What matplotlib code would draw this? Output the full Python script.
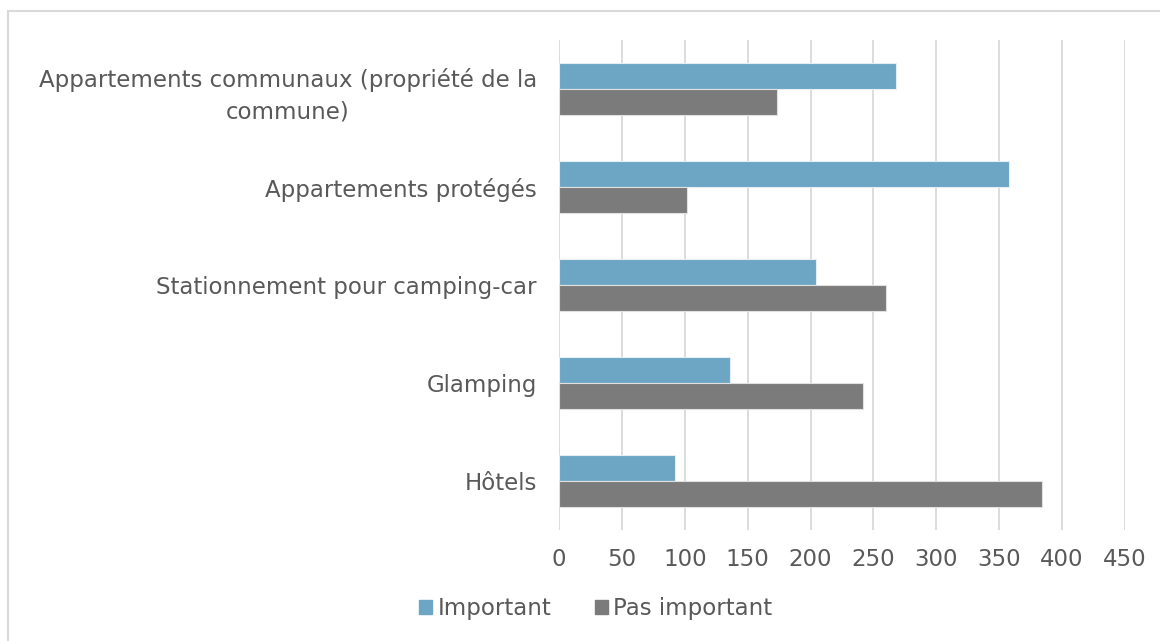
import matplotlib
matplotlib.use("Agg")
import matplotlib.pyplot as plt
import matplotlib.patches as mpatches
import numpy as np

categories = [
    "Appartements communaux (propriété de la\ncommune)",
    "Appartements protégés",
    "Stationnement pour camping-car",
    "Glamping",
    "Hôtels",
]
important = [268, 358, 204, 136, 92]
pas_important = [173, 102, 260, 242, 384]
series_names = ["Important", "Pas important"]
x_ticks = [0, 50, 100, 150, 200, 250, 300, 350, 400, 450]

BLUE = "#6CA6C4"
GRAY = "#7B7B7B"
TEXT = "#595959"
GRID = "#D9D9D9"

plt.rcParams["font.family"] = ["DejaVu Sans"]

fig = plt.figure(figsize=(11.6, 6.41), dpi=100)
ax = fig.add_axes([559 / 1160, 1 - 530 / 641, (1125 - 559) / 1160, (530 - 40) / 641])

y = np.arange(len(categories))
h = 0.262
ax.barh(y - h / 2, important, height=h, color=BLUE, edgecolor="#E6EEF3", linewidth=0.8,
        label=series_names[0], zorder=3)
ax.barh(y + h / 2, pas_important, height=h, color=GRAY, edgecolor="#E0E0E0", linewidth=0.8,
        label=series_names[1], zorder=3)

ax.set_ylim(len(categories) - 0.5, -0.5)
ax.set_xlim(0, 450)
ax.set_xticks(x_ticks)
ax.set_xticklabels([str(t) for t in x_ticks])
ax.set_yticks(y)
ax.set_yticklabels(categories, multialignment="center", linespacing=1.45)

ax.grid(axis="x", color=GRID, linewidth=1.3, zorder=0)
ax.set_axisbelow(True)
for s in ax.spines.values():
    s.set_visible(False)
ax.tick_params(axis="both", length=0, labelsize=16.5, colors=TEXT)
ax.tick_params(axis="x", pad=13)
ax.tick_params(axis="y", pad=16)

handles = [mpatches.Patch(color=BLUE), mpatches.Patch(color=GRAY)]
leg = fig.legend(handles, series_names, loc="center", bbox_to_anchor=(596 / 1160, 1 - 609 / 641),
                 ncol=2, frameon=False, fontsize=16.5, handlelength=0.55, handleheight=0.55,
                 handletextpad=0.25, columnspacing=1.9)
for t in leg.get_texts():
    t.set_color(TEXT)

frame = mpatches.Rectangle((8 / 1160, -0.05), 1.2, (641 - 11) / 641 + 0.05, transform=fig.transFigure,
                           fill=False, edgecolor=GRID, linewidth=1.5)
fig.patches.append(frame)

fig.savefig("out.png", dpi=100, facecolor="white")
